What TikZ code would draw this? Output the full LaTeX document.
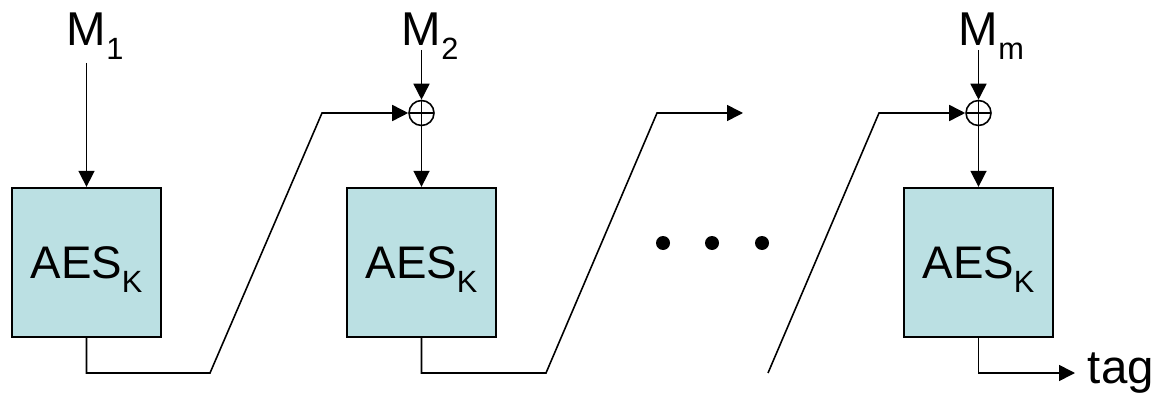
\documentclass[tikz,border=0pt]{standalone}
\usepackage{fontspec}
\setmainfont{Liberation Sans}
\usepackage{tikz}
\usetikzlibrary{positioning, calc, arrows.meta}
\definecolor{CbcFill}{HTML}{BBE0E3}
\newcommand{\lowsub}[1]{\raisebox{-0.28cm}{\fontsize{17.5}{20}\selectfont #1}}

\begin{document}
\begin{tikzpicture}[
    flow/.style={line width=0.9pt, -{Triangle[length=0.32cm, width=0.32cm]}},
    aesbox/.style={draw, line width=1.3pt, fill=CbcFill, minimum size=2.98cm,
      inner sep=0pt, text depth=0pt, font=\fontsize{26}{30}\selectfont},
    lbl/.style={inner sep=0pt, font=\fontsize{27}{30}\selectfont},
    xorop/.style={draw, circle, line width=0.9pt, minimum size=0.5cm, inner sep=0pt,
      path picture={
        \draw[line width=0.9pt] (path picture bounding box.north) -- (path picture bounding box.south)
          (path picture bounding box.west) -- (path picture bounding box.east);
      }}
  ]
  \useasboundingbox (0,0) rectangle (23.44,8.02);

  % Cipher blocks
  \node[aesbox] (aes1) at (1.73, 2.77) {AES\lowsub{K}};
  \node[aesbox] (aes2) at (8.43, 2.77) {AES\lowsub{K}};
  \node[aesbox] (aes3) at (19.57, 2.77) {AES\lowsub{K}};

  % XOR points
  \node[xorop] (x2) at (8.43, 5.76) {};
  \node[xorop] (x3) at (19.57, 5.76) {};

  % Message blocks
  \node[lbl, anchor=base] (m1) at (1.73, 7.10) {M\rlap{\lowsub{1}}};
  \node[lbl, anchor=base] (m2) at (8.43, 7.10) {M\rlap{\lowsub{2}}};
  \node[lbl, anchor=base] (mm) at (19.57, 7.10) {M\rlap{\lowsub{m}}};

  % Chaining corners
  \coordinate (r1a) at (4.2, 0.56);
  \coordinate (r1b) at (6.44, 5.76);
  \coordinate (r2a) at (10.92, 0.56);
  \coordinate (r2b) at (13.14, 5.76);
  \coordinate (r2end) at (14.86, 5.76);
  \coordinate (r3a) at (15.36, 0.56);
  \coordinate (r3b) at (17.58, 5.76);
  \coordinate (tagtip) at (21.5, 0.56);

  \node[lbl, right=0.25cm of tagtip, anchor=west] (tag) {tag};

  % Inputs
  \draw[flow] ([yshift=-0.34cm]m1.base) -- (aes1);
  \draw[flow] ([yshift=-0.08cm]m2.base) -- (x2);
  \draw[flow] ([yshift=-0.08cm]mm.base) -- (x3);
  \draw[flow] (x2) -- (aes2);
  \draw[flow] (x3) -- (aes3);

  % Chaining
  \draw[flow] (aes1.south) |- (r1a) -- (r1b) -- (x2);
  \draw[flow] (aes2.south) |- (r2a) -- (r2b) -- (r2end);
  \draw[flow] (r3a) -- (r3b) -- (x3);
  \draw[flow] (aes3.south) |- (tagtip);

  % Ellipsis
  \foreach \x in {13.26, 14.24, 15.24} {
    \fill (\x, 3.16) circle (0.14);
  }
\end{tikzpicture}
\end{document}
